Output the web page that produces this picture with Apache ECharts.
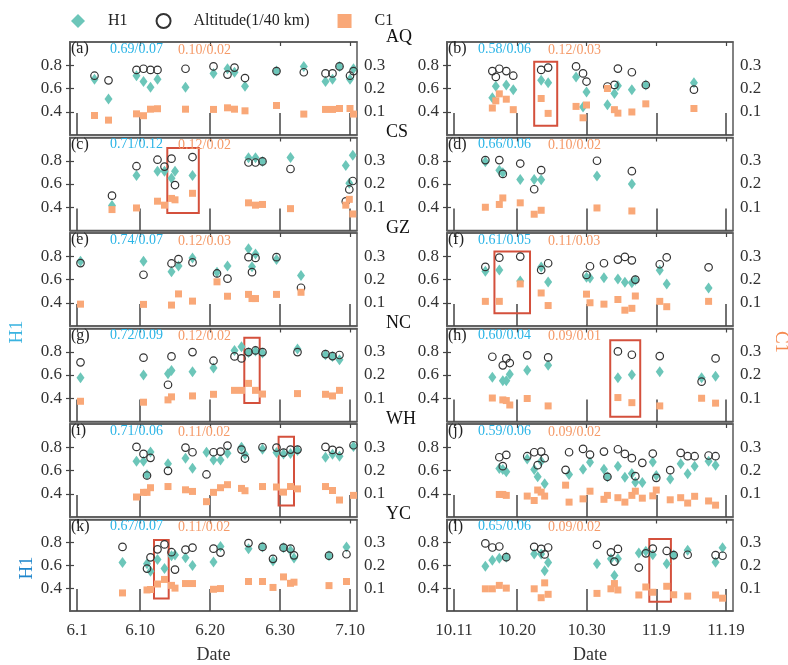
<!DOCTYPE html>
<html><head><meta charset="utf-8">
<script src="https://cdn.jsdelivr.net/npm/echarts@6/dist/echarts.min.js"></script>
<style>html,body{margin:0;padding:0;background:#fff}#c{width:788px;height:665px}</style>
</head><body><div id="c"></div>
<script>
// ---------- labels ----------
const stations = ['AQ', 'CS', 'GZ', 'NC', 'WH', 'YC'];
const panelLetters = ['a','b','c','d','e','f','g','h','i','j','k','l'];
// x = day index: summer column counts days from May 31 (6.1 = 1), autumn from Oct 10 (10.11 = 1)
const tickDays = [1, 10, 20, 30, 40];
const summerTickLabels = ['6.1', '6.10', '6.20', '6.30', '7.10'];
const autumnTickLabels = ['10.11', '10.20', '10.30', '11.9', '11.19'];
const h1Ticks = [0.4, 0.6, 0.8];
const c1Ticks = [0.1, 0.2, 0.3];
const h1Stats = ['0.69/0.07','0.58/0.06','0.71/0.12','0.66/0.06','0.74/0.07','0.61/0.05','0.72/0.09','0.60/0.04','0.71/0.06','0.59/0.06','0.67/0.07','0.65/0.06'];
const c1Stats = ['0.10/0.02','0.12/0.03','0.12/0.02','0.10/0.02','0.12/0.03','0.11/0.03','0.12/0.02','0.09/0.01','0.11/0.02','0.09/0.02','0.11/0.02','0.09/0.02'];

// ---------- data ----------
// (a) AQ summer
const aDay = [3.5,5.5,9.5,10.5,11.5,12.5,16.5,20.5,22.5,23.5,25,29.5,33.4,36.5,37.5,38.5,40,40.5];
const aH1  = [0.68,0.51,0.71,0.66,0.61,0.68,0.61,0.73,0.77,0.74,0.62,0.75,0.79,0.66,0.68,0.79,0.68,0.77];
const aAlt = [0.71,0.67,0.76,0.77,0.76,0.76,0.77,0.79,0.72,0.78,0.69,0.75,0.74,0.73,0.73,0.79,0.71,0.75];
const aC1  = [0.084,0.064,0.091,0.083,0.111,0.113,0.111,0.110,0.117,0.111,0.104,0.127,0.090,0.110,0.110,0.114,0.114,0.090];
// (b) AQ autumn
const bDay = [6.5,7,7.5,8.5,9.5,13.5,14.5,18.5,19.5,20,23,24,24.5,26.5,28.5,35.4];
const bH1  = [0.52,0.62,null,0.63,0.59,0.67,0.65,0.70,0.44,0.57,0.46,0.557,0.623,0.59,0.63,0.65];
const bAlt = [0.75,0.70,0.77,0.75,0.71,0.76,0.78,0.79,0.73,0.66,0.617,0.631,0.771,0.74,0.63,0.59];
const bC1  = [0.116,0.147,0.177,0.154,0.109,0.157,0.093,0.123,0.074,0.129,0.200,0.109,0.094,0.099,0.134,0.114];
// (c) CS summer
const cDay = [6,9.5,12.5,13.5,14.5,15,17.5,25.5,26.5,27.5,31.5,39.4,39.9,40.4];
const cH1  = [0.415,0.674,0.709,0.709,0.65,0.709,0.674,0.826,0.826,0.794,0.829,0.759,0.606,0.847];
const cAlt = [0.50,0.753,0.809,0.75,0.818,0.591,0.832,0.785,0.785,0.794,0.729,0.45,0.553,0.626];
const cC1  = [0.09,0.097,0.126,0.109,0.138,0.132,0.16,0.119,0.109,0.112,0.094,0.109,0.134,0.071];
// (d) CS autumn
const dDay = [5.5,7.5,8,10.5,12.5,13.5,21.5,26.5];
const dH1  = [0.791,0.719,0.696,0.639,0.639,0.636,0.669,0.6];
const dAlt = [0.806,0.806,0.687,0.776,0.555,0.719,0.8,0.71];
const dC1  = [0.1,0.112,0.14,0.119,0.07,0.087,0.097,0.084];
// (e) GZ summer
const eDay = [1.5,10.5,14.5,15.5,17.5,21,22.5,25.5,26,26.5,29.5,33];
const eH1  = [0.758,0.758,0.666,0.716,0.786,0.663,0.716,0.864,0.71,0.82,0.772,0.635];
const eAlt = [0.741,0.641,0.738,0.775,0.747,0.652,0.607,0.792,0.663,0.786,0.792,0.529];
const eC1  = [0.094,0.093,0.09,0.138,0.107,0.19,0.128,0.136,0.118,0.118,0.136,0.145];
// (f) GZ autumn
const fDay = [5.5,7.5,10.5,13.5,14.5,20,20.5,22.5,24.5,25.5,26.5,27,30.5,31.5,37.5];
const fH1  = [0.671,0.682,0.587,0.708,0.578,0.619,0.613,0.616,0.604,0.576,0.573,0.593,0.679,0.561,0.527];
const fAlt = [0.708,0.788,0.797,0.682,0.74,0.639,0.714,0.74,0.771,0.794,0.765,0.599,0.731,0.791,0.705];
const fC1  = [0.106,0.106,0.181,0.142,0.088,0.137,0.1,0.094,0.114,0.068,0.076,0.129,0.106,0.083,0.106];
// (g) NC summer
const gDay = [1.5,10.5,14,14.5,17.5,20.5,23.5,24.5,25.5,26.5,27.5,32.5,36.5,37.5,38.5];
const gH1  = [0.576,0.599,0.61,0.638,0.627,0.661,0.811,0.843,0.794,0.806,0.789,0.823,0.774,0.76,0.732];
const gAlt = [0.709,0.749,0.516,0.76,0.797,0.723,0.76,0.743,0.797,0.811,0.797,0.797,0.78,0.763,0.772];
const gC1  = [0.087,0.083,0.093,0.106,0.11,0.117,0.134,0.134,0.164,0.134,0.118,0.12,0.117,0.11,0.134];
// (h) NC autumn
const hDay = [6.5,8,8.5,9,11.5,14.5,24.5,26.5,30.5,36.5,38.5];
const hH1  = [0.58,0.551,0.551,0.606,0.64,0.683,0.577,0.603,0.629,0.577,0.589];
const hAlt = [0.757,0.683,0.743,0.703,0.769,0.751,0.803,0.774,0.763,0.543,0.743];
const hC1  = [0.101,0.093,0.09,0.071,0.099,0.067,0.103,0.081,0.067,0.1,0.079];
// (i) WH summer
const iDay = [9.5,10.5,11,11.5,14,16.5,17.5,19.5,20.5,21.5,22.5,24.5,25,27.5,29.5,30.5,31.5,32.5,36.5,37.5,38.5,40.5];
const iH1  = [0.68,0.68,0.563,0.76,0.657,0.706,0.62,0.757,0.691,0.691,0.749,0.8,0.737,0.783,0.754,0.743,0.746,0.771,0.714,0.74,0.723,0.806];
const iAlt = [0.803,0.743,0.557,0.709,0.597,0.797,0.757,0.566,0.757,0.763,0.814,0.78,0.703,0.8,0.797,0.754,0.78,0.78,0.803,0.777,0.769,0.817];
const iC1  = [0.086,0.106,0.106,0.126,0.131,0.117,0.11,0.066,0.106,0.126,0.139,0.123,0.113,0.131,0.129,0.107,0.131,0.121,0.131,0.114,0.073,0.093];
// (j) WH autumn
const jDay = [7.5,8,8.5,11.5,12.5,13,13.5,14,17,17.5,19.5,20.5,22.5,23,24.5,25.5,26.5,27,28,29.5,30,32,33.5,34.5,35.5,37.5,38.5];
const jH1  = [0.617,0.609,0.589,0.7,0.609,0.546,0.68,0.486,null,0.566,0.611,0.671,0.611,0.546,0.637,0.543,0.574,0.5,0.497,0.674,0.557,0.526,0.657,0.571,0.637,0.68,0.646];
const jAlt = [0.714,0.637,0.734,0.723,0.757,0.646,0.763,0.706,0.606,0.757,0.786,0.737,0.763,0.546,0.783,0.743,0.706,0.551,0.666,0.746,0.537,0.603,0.751,0.723,0.723,0.729,0.723];
const jC1  = [0.097,0.097,0.093,0.09,0.071,0.116,0.107,0.09,0.137,0.064,0.078,0.111,0.076,0.093,0.083,0.064,0.093,0.111,0.081,0.091,0.116,0.074,0.083,0.06,0.089,0.069,0.051];
// (k) YC summer
const kDay = [7.5,11,11.5,12.5,13.5,14.5,15,16.5,17.5,20.5,21.5,25.5,27.5,29,30.5,31.5,32,37,39.5];
const kH1  = [0.623,0.614,0.547,0.65,0.571,0.684,0.69,0.666,0.598,0.629,0.763,0.745,0.76,0.638,0.754,0.73,0.663,0.684,0.76];
const kAlt = [0.76,0.571,0.669,0.739,0.782,0.714,0.562,0.736,0.754,0.745,0.711,0.794,0.76,0.656,0.754,0.745,0.687,0.684,0.696];
const kC1  = [0.079,0.092,0.094,0.118,0.138,0.112,0.1,0.12,0.12,0.095,0.098,0.129,0.129,0.103,0.149,0.121,0.126,0.111,0.129];
// (l) YC autumn
const lDay = [5.5,6.5,7.5,8.5,12.5,13.5,14,14.5,21.5,23.5,24,24.5,27.5,28.5,29.5,31.5,32.5,34.5,38.5,39.5];
const lH1  = [0.592,0.644,0.662,0.671,0.698,0.698,0.553,0.623,0.614,0.656,0.511,0.656,0.707,0.722,0.692,0.614,0.689,0.731,0.626,0.752];
const lAlt = [0.791,0.755,0.764,0.671,0.761,0.743,0.695,0.755,0.779,0.713,0.632,0.743,0.58,0.704,0.746,0.725,0.689,0.692,0.689,0.683];
const lC1  = [0.097,0.097,0.112,0.1,0.097,0.058,0.123,0.073,0.077,0.097,0.12,0.092,0.07,0.105,0.082,0.108,0.071,0.065,0.07,0.056];

// highlighted boxes: panel index, day range, H1-axis range
const boxPanel = [1, 2, 5, 6, 7, 8, 10, 11];
const boxDays  = [[12.5,15.8],[13.9,18.4],[6.8,11.9],[24.9,27.1],[23.4,27.7],[29.8,32.0],[12.0,14.1],[29.0,32.1]];
const boxH1    = [[0.28,0.83],[0.35,0.91],[0.31,0.84],[0.36,0.92],[0.24,0.90],[0.30,0.89],[0.31,0.82],[0.28,0.83]];

const panels = [
  [aDay,aH1,aAlt,aC1],[bDay,bH1,bAlt,bC1],[cDay,cH1,cAlt,cC1],[dDay,dH1,dAlt,dC1],
  [eDay,eH1,eAlt,eC1],[fDay,fH1,fAlt,fC1],[gDay,gH1,gAlt,gC1],[hDay,hH1,hAlt,hC1],
  [iDay,iH1,iAlt,iC1],[jDay,jH1,jAlt,jC1],[kDay,kH1,kAlt,kC1],[lDay,lH1,lAlt,lC1]
];

// ---------- layout / style ----------
const FONT = '"Liberation Serif", "Times New Roman", serif';
const TEAL = '#6cc6b9', ORANGE = '#f9a878', CYAN = '#2ab4e6', ORANGE_T = '#f59a68', RED = '#d4503c';
const FRAME = '#5a5a5a';
const colLeft = [70, 447], colWidth = [287, 286];
const rowTop = r => 42 + r * 95.5;
const rowH = 93;

const grids = [], xAxes = [], yAxes = [], series = [], graphics = [];
const zip = (xs, ys) => xs.map((x, i) => [x, ys[i]]).filter(p => p[1] !== null && p[1] !== undefined);

panels.forEach((pd, p) => {
  const row = Math.floor(p / 2), col = p % 2;
  const gx = colLeft[col], gy = rowTop(row);
  grids.push({ left: gx, top: gy, width: colWidth[col], height: rowH, show: true,
    borderColor: FRAME, borderWidth: 1.5, backgroundColor: 'transparent' });
  const labels = col === 0 ? summerTickLabels : autumnTickLabels;
  const isBottom = row === 5;
  xAxes.push({
    type: 'value', gridIndex: p, min: 0, max: 41,
    axisLine: { show: true, lineStyle: { color: FRAME, width: 1.5 } },
    axisTick: { show: true, inside: true, length: 22, customValues: tickDays, lineStyle: { color: '#444', width: 1.5 } },
    axisLabel: { show: isBottom, customValues: tickDays, margin: 11,
      formatter: v => labels[tickDays.indexOf(Math.round(v))] || '',
      fontFamily: FONT, fontSize: 17, color: '#333' },
    splitLine: { show: false },
    name: isBottom ? 'Date' : '', nameLocation: 'middle', nameGap: 35,
    nameTextStyle: { fontFamily: FONT, fontSize: 18, color: '#333' }
  });
  xAxes.push({
    type: 'value', gridIndex: p, min: 0, max: 41, position: 'top',
    axisLine: { show: true, lineStyle: { color: FRAME, width: 1.5 } },
    axisTick: { show: true, inside: true, length: 4, customValues: tickDays, lineStyle: { color: '#444', width: 1.2 } },
    axisLabel: { show: false }, splitLine: { show: false }
  });
  yAxes.push({
    type: 'value', gridIndex: p, min: 0.2, max: 1.0, position: 'left',
    axisLine: { show: true, lineStyle: { color: FRAME, width: 1.5 } },
    axisTick: { show: true, inside: true, length: 4, customValues: h1Ticks, lineStyle: { color: '#444', width: 1.2 } },
    axisLabel: { customValues: h1Ticks, formatter: v => v.toFixed(1), margin: 8,
      fontFamily: FONT, fontSize: 17, color: '#333' },
    splitLine: { show: false }
  });
  yAxes.push({
    type: 'value', gridIndex: p, min: 0, max: 0.4, position: 'right',
    axisLine: { show: true, lineStyle: { color: FRAME, width: 1.5 } },
    axisTick: { show: true, inside: true, length: 4, customValues: c1Ticks, lineStyle: { color: '#444', width: 1.2 } },
    axisLabel: { customValues: c1Ticks, formatter: v => v.toFixed(1), margin: 7,
      fontFamily: FONT, fontSize: 17, color: '#333' },
    splitLine: { show: false }
  });
  const [day, h1, alt, c1] = pd;
  const h1Series = {
    type: 'scatter', name: 'H1', xAxisIndex: 2 * p, yAxisIndex: 2 * p,
    symbol: 'diamond', symbolSize: [8, 11], itemStyle: { color: TEAL, opacity: 1 },
    data: zip(day, h1), silent: true
  };
  const bi = boxPanel.indexOf(p);
  if (bi >= 0) {
    h1Series.markArea = { silent: true,
      itemStyle: { color: 'rgba(0,0,0,0)', borderColor: RED, borderWidth: 2 },
      data: [[{ xAxis: boxDays[bi][0], yAxis: boxH1[bi][0] }, { xAxis: boxDays[bi][1], yAxis: boxH1[bi][1] }]] };
  }
  series.push(h1Series);
  series.push({
    type: 'scatter', name: 'Altitude(1/40 km)', xAxisIndex: 2 * p, yAxisIndex: 2 * p,
    symbol: 'circle', symbolSize: 7.5,
    itemStyle: { color: 'rgba(255,255,255,0)', borderColor: '#333', borderWidth: 1.2, opacity: 1 },
    data: zip(day, alt), silent: true
  });
  series.push({
    type: 'scatter', name: 'C1', xAxisIndex: 2 * p, yAxisIndex: 2 * p + 1,
    symbol: 'rect', symbolSize: 7, itemStyle: { color: ORANGE, opacity: 1 },
    data: zip(day, c1), silent: true
  });

  const txt = (x, y, text, fill, size, align) => ({
    type: 'text', x, y, silent: true, z: 100,
    style: { text, fill, fontFamily: FONT, fontSize: size,
      textAlign: align || 'left', align: align || 'left',
      textVerticalAlign: 'middle', verticalAlign: 'middle' }
  });
  graphics.push(txt(gx + 1, gy + 7, '(' + panelLetters[p] + ')', '#222', 16));
  graphics.push(txt(gx + (col === 0 ? 40 : 31), gy + 7, h1Stats[p], CYAN, 14));
  graphics.push(txt(gx + (col === 0 ? 108 : 101), gy + 8, c1Stats[p], ORANGE_T, 14));
  if (col === 0) graphics.push(txt(386, gy - 5, stations[row], '#111', 18));
});

const rtxt = (x, y, text, fill, rot) => ({
  type: 'text', x, y, rotation: rot, silent: true, z: 100,
  style: { text, fill, fontFamily: FONT, fontSize: 19,
    textAlign: 'center', align: 'center', textVerticalAlign: 'middle', verticalAlign: 'middle' }
});
graphics.push(rtxt(17, 332, 'H1', '#3ab3e0', Math.PI / 2));
graphics.push(rtxt(27, 568, 'H1', '#1f86cc', Math.PI / 2));
graphics.push(rtxt(781, 342, 'C1', '#f58a50', -Math.PI / 2));

const chart = echarts.init(document.getElementById('c'), null, { renderer: 'canvas' });
chart.setOption({
  animation: false,
  backgroundColor: '#fff',
  legend: {
    data: ['H1', 'Altitude(1/40 km)', 'C1'], left: 66, top: 8,
    itemWidth: 14, itemHeight: 14, itemGap: 28,
    textStyle: { fontFamily: FONT, fontSize: 16, color: '#222', padding: [0, 0, 0, 18] }
  },
  grid: grids, xAxis: xAxes, yAxis: yAxes, series, graphic: graphics
});
</script></body></html>
